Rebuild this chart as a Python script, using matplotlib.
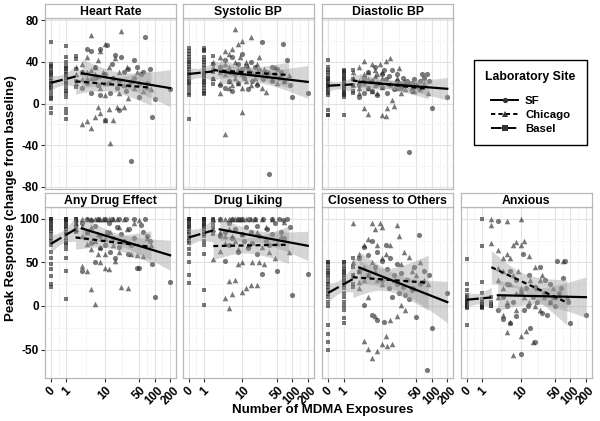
import numpy as np
import matplotlib
matplotlib.use('Agg')
import matplotlib.pyplot as plt
from matplotlib.lines import Line2D

plt.rcParams['font.family'] = ['Liberation Sans', 'DejaVu Sans']
plt.rcParams['font.weight'] = 'bold'
plt.rcParams['axes.unicode_minus'] = False

# number of MDMA exposures per subject (same subjects in every panel)
basel_exp = [0, 0, 0, 0, 0, 0, 0, 0, 0, 0, 0, 0, 0, 0, 0, 0, 0, 0, 0, 0,
             1, 1, 1, 1, 1, 1, 1, 1, 1, 1, 1, 1, 1, 1, 1, 1, 1, 1, 1, 1,
             2, 2, 2, 2, 2]
chicago_exp = [2, 2, 2, 3, 3, 3, 3, 4, 4, 4, 4, 5, 5, 5, 5, 6, 6, 6, 7, 7, 7, 8, 8, 8, 9,
               10, 10, 10, 10, 12, 12, 13, 15, 15, 16, 18, 20, 20, 22, 25, 25, 28, 30, 35,
               40, 45, 50, 60, 70, 85]
sf_exp = [3, 3, 4, 4, 5, 5, 6, 6, 7, 8, 8, 10, 10, 11, 12, 13, 14, 15, 16, 18, 20, 20,
          22, 25, 27, 30, 32, 35, 40, 40, 45, 50, 55, 60, 65, 70, 80, 90, 100, 200]

# Heart Rate
hr_basel = [59, 38, 36, 35, 32, 30, 28, 27, 25, 22, 20, 18, 16, 15, 12, 8, 5, 4, -4, -9,
            55, 45, 40, 36, 34, 33, 30, 28, 26, 25, 22, 20, 19, 15, 12, 10, 6, -5, -9, -15,
            46, 43, 33, 22, 16]
hr_chicago = [35, 20, 28, -20, 38, 30, 24, -17, 45, 30, 25, 66, -23, 25, 32, -13, 35, 28,
              -3, 42, 26, -9, 50, 15, 30, -16, 57, 20, 8, -5, 35, -38, -16, 25, 44, -3,
              10, 30, 70, -3, 18, 35, 5, 22, 15, 30, 20, 12, 16, 14]
hr_sf = [30, 15, 52, 20, 50, 10, 25, 35, 18, 52, 8, -16, 28, 56, 20, 10, 38, 25, 47, 15,
         22, -6, 45, 30, 12, 33, 18, -55, 42, 25, 35, 6, 28, 30, 64, 20, 33, -13, 4, 14]

# Systolic BP
sbp_basel = [53, 50, 48, 45, 42, 40, 38, 35, 33, 30, 28, 26, 24, 22, 20, 18, 14, 10, 8, -15,
             53, 51, 50, 45, 42, 40, 37, 34, 31, 29, 27, 26, 24, 22, 20, 18, 15, 12, 10, 9,
             46, 38, 30, 24, 19]
sbp_chicago = [35, 25, 40, 20, 45, 30, 10, -29, 38, 50, 28, 22, 48, 15, 35, 52, 30, 18,
               72, 40, 25, 57, 20, 33, 45, 60, -8, 28, 15, 40, 22, 35, 64, 18, 30, 25,
               38, 20, 45, 28, 15, 33, 11, 30, 24, 35, 20, 28, 22, 27]
sbp_sf = [18, 35, 15, 42, 30, 22, 45, 12, 28, 38, 20, 33, 48, 25, 36, 14, 30, 40, 22, 35,
          28, 18, 32, 59, 24, 30, 26, -68, 35, 22, 28, 33, 25, 30, 57, 22, 42, 18, 6, 10]

# Diastolic BP
dbp_basel = [42, 35, 32, 30, 27, 25, 24, 23, 21, 19, 18, 17, 16, 14, 12, 10, 8, -6, -11, -11,
             32, 31, 30, 28, 26, 25, 24, 22, 20, 18, 17, 16, 15, 14, 12, 10, 9, 8, 6, -11,
             32, 24, 18, 12, 10]
dbp_chicago = [25, 18, 30, 15, 35, 22, 10, 41, -4, 20, 28, -10, 30, 15, 24, 38, 12, 22,
               26, 18, 32, 20, 10, 28, 38, -11, 25, 16, 30, 41, -12, -4, 44, 20, 3, -2,
               25, 15, 34, 18, 10, 22, 14, 20, 16, 12, 18, 14, 20, 10]
dbp_sf = [6, 18, 25, 10, 30, 15, 22, 12, 35, 20, 8, 28, 16, 32, 24, 10, 26, 18, 32, 14,
          22, 28, 20, 15, 25, 18, 22, -46, 20, 12, 24, 18, 15, 22, 28, 25, 28, 22, -4, 6]

# Any Drug Effect
ade_basel = [100, 100, 100, 97, 95, 93, 90, 88, 86, 82, 78, 74, 70, 62, 55, 48, 42, 34, 25, 22,
             100, 100, 100, 100, 98, 96, 95, 92, 90, 88, 85, 82, 78, 75, 72, 70, 65, 55, 40, 8,
             100, 100, 95, 90, 85]
ade_chicago = [100, 95, 88, 100, 46, 92, 80, 100, 71, 40, 85, 19, 100, 65, 90, 2, 100, 75,
               100, 60, 82, 100, 68, 50, 100, 43, 100, 78, 60, 100, 42, 85, 100, 70, 51, 100,
               62, 90, 22, 100, 75, 88, 20, 60, 95, 58, 98, 57, 78, 70]
ade_sf = [40, 95, 100, 85, 98, 72, 50, 92, 100, 80, 66, 100, 70, 85, 95, 62, 100, 78, 55, 90,
          100, 68, 82, 75, 100, 60, 88, 70, 100, 78, 44, 43, 93, 85, 100, 80, 75, 48, 10, 28]

# Drug Liking
dl_basel = [100, 100, 100, 100, 98, 96, 94, 92, 90, 88, 85, 82, 78, 75, 72, 65, 60, 50, 36, 26,
            100, 100, 100, 100, 100, 98, 96, 95, 93, 92, 90, 88, 85, 82, 80, 75, 70, 60, 18, 1,
            100, 98, 95, 90, 82]
dl_chicago = [100, 54, 88, 100, 63, 85, 82, 9, 100, 80, 72, -2, 29, 100, 88, 14, 100, 80,
              30, 100, 75, 48, 100, 65, 100, 16, 100, 50, 82, 20, 100, 70, 24, 100, 50, 100,
              24, 85, 50, 100, 68, 48, 90, 62, 100, 55, 72, 80, 96, 62]
dl_sf = [100, 80, 85, 51, 95, 70, 100, 78, 88, 100, 62, 82, 100, 75, 90, 66, 100, 85, 72, 100,
         60, 92, 80, 37, 100, 75, 88, 70, 100, 82, 95, 40, 100, 85, 98, 78, 100, 90, 13, 37]

# Closeness to Others
cl_basel = [50, 50, 48, 44, 40, 38, 36, 32, 28, 25, 22, 18, 14, 10, 5, 0, -22, -32, -41, -50,
            50, 50, 46, 42, 40, 38, 35, 32, 30, 28, 26, 24, 20, 15, 10, 5, 0, -5, -14, -20,
            55, 45, 35, 25, 22]
cl_chicago = [95, 35, 50, 20, 60, 40, 28, -40, 45, 30, 70, -49, 77, 35, 10, -60, 50, 95,
              -12, 40, 88, -52, 70, 30, 95, -44, 55, 25, 91, -35, 60, -46, 70, -16, -44, 30,
              93, -12, 80, 1, 48, 62, -5, 56, 40, 20, 35, 50, 30, 25]
cl_sf = [40, 55, 68, 1, 35, 58, -10, 75, 45, 62, -16, 51, 30, -18, 70, 42, 20, 55, 10, 35,
         25, 48, 15, 38, 22, 12, 30, 8, 20, 18, 45, -13, 81, 25, 28, 40, -73, 35, -25, 15]

# Anxious
anx_basel = [54, 25, 18, 12, 10, 8, 6, 5, 4, 3, 2, 1, 0, 0, 0, 0, 0, -1, -2, -22,
             100, 69, 28, 15, 8, 5, 3, 2, 1, 0, 0, 0, 0, 0, 0, 0, 0, -1, -1, -2,
             10, 5, 2, 0, 0]
anx_chicago = [100, 93, 72, 64, 44, 30, 10, 55, 40, 20, -10, 97, 60, 5, -30, 55, 25, -18,
               -56, 35, 70, 73, 15, -5, 40, 100, 70, -35, 20, 75, 10, -29, 57, 5, 30, -41,
               45, 0, 20, 30, -5, 35, 10, 15, 5, 20, 10, 12, 52, 10]
anx_sf = [97, -5, 10, -15, 25, 0, -20, 40, 5, -12, 30, -55, 15, 60, -5, 20, 0, 35, -25, 10,
          -41, 22, 5, 45, -8, 15, 30, -10, 25, 5, 10, 0, 52, 15, 20, 32, 52, 5, -20, -10]

x_ticks = [0, 1, 10, 50, 100, 200]
x_tick_labels = ['0', '1', '10', '50', '100', '200']

panels = [
    ('Heart Rate', hr_basel, hr_chicago, hr_sf, 0, 0),
    ('Systolic BP', sbp_basel, sbp_chicago, sbp_sf, 0, 1),
    ('Diastolic BP', dbp_basel, dbp_chicago, dbp_sf, 0, 2),
    ('Any Drug Effect', ade_basel, ade_chicago, ade_sf, 1, 0),
    ('Drug Liking', dl_basel, dl_chicago, dl_sf, 1, 1),
    ('Closeness to Others', cl_basel, cl_chicago, cl_sf, 1, 2),
    ('Anxious', anx_basel, anx_chicago, anx_sf, 1, 3),
]

rows = {
    0: dict(ylim=(-82, 82), ticks=[-80, -40, 0, 40, 80], minor=[-60, -20, 20, 60]),
    1: dict(ylim=(-83, 113), ticks=[-50, 0, 50, 100], minor=[-25, 25, 75]),
}

sites = [  # name, exposures index, marker, size, dashes
    ('SF', 2, 'o', 14, None),
    ('Chicago', 1, '^', 16, (2.2, 1.6)),
    ('Basel', 0, 's', 12, (5.5, 2.0)),
]
exposures = [basel_exp, chicago_exp, sf_exp]


def fwd(x):
    return np.log10(np.maximum(np.asarray(x, float) + 1.0, 1e-6))


def inv(t):
    return 10 ** np.asarray(t, float) - 1.0


def lm_band(e, y):
    # linear fit on log10(x+1) with 95% confidence band
    t = fwd(e)
    y = np.asarray(y, float)
    n = len(t)
    b, a = np.polyfit(t, y, 1)
    tt = np.linspace(t.min(), t.max(), 80)
    fit = a + b * tt
    s = np.sqrt(np.sum((y - (a + b * t)) ** 2) / (n - 2))
    se = s * np.sqrt(1.0 / n + (tt - t.mean()) ** 2 / np.sum((t - t.mean()) ** 2))
    q = 1.96 + 2.4 / (n - 2)
    return inv(tt), fit, fit - q * se, fit + q * se


pt_col = '#262626'
grid_major = '#e3e3e3'
grid_minor = '#f4f4f4'
border = '#b8b8b8'

fig = plt.figure(figsize=(6, 4.21), dpi=100)

lefts = [0.075, 0.3045, 0.537, 0.768]
width = 0.2183
bottoms = {0: 0.551, 1: 0.1014}
height = 0.406
strip_h = 0.034

minor_x = inv((fwd(x_ticks[:-1]) + fwd(x_ticks[1:])) / 2)

for title, yb, yc, ys, r, c in panels:
    ax = fig.add_axes([lefts[c], bottoms[r], width, height])
    ax.set_xscale('function', functions=(fwd, inv))
    ax.set_xlim(-0.23, 260)
    ax.set_ylim(*rows[r]['ylim'])
    ax.set_xticks(x_ticks)
    ax.set_xticks(minor_x, minor=True)
    ax.set_yticks(rows[r]['ticks'])
    ax.set_yticks(rows[r]['minor'], minor=True)
    ax.grid(True, which='major', color=grid_major, lw=0.8, zorder=0)
    ax.grid(True, which='minor', color=grid_minor, lw=0.6, zorder=0)
    ax.set_axisbelow(True)
    for sp in ax.spines.values():
        sp.set_color(border)
        sp.set_linewidth(0.9)
    ax.tick_params(which='minor', length=0)
    ax.tick_params(which='major', length=3, width=0.8, color='#333333',
                   labelsize=8.5, pad=1.5, labelcolor='black')

    ys_by_site = [yb, yc, ys]
    for name, idx, mk, sz, dash in sites:
        ax.scatter(exposures[idx], ys_by_site[idx], marker=mk, s=sz, color=pt_col,
                   alpha=0.62, linewidths=0, zorder=2)
    for name, idx, mk, sz, dash in sites:
        xx, fit, lo, hi = lm_band(exposures[idx], ys_by_site[idx])
        ax.fill_between(xx, lo, hi, color='#999999', alpha=0.4, lw=0, zorder=3)
    for name, idx, mk, sz, dash in sites:
        xx, fit, lo, hi = lm_band(exposures[idx], ys_by_site[idx])
        ln, = ax.plot(xx, fit, color='black', lw=1.6, zorder=4)
        if dash is not None:
            ln.set_dashes(dash)

    if r == 1:
        ax.set_xticklabels(x_tick_labels, rotation=45, ha='center')
    else:
        ax.tick_params(axis='x', which='both', bottom=False, labelbottom=False)
    if c != 0:
        ax.tick_params(axis='y', which='both', left=False, labelleft=False)

    sax = fig.add_axes([lefts[c], bottoms[r] + height, width, strip_h])
    sax.set_xticks([])
    sax.set_yticks([])
    sax.set_facecolor('white')
    for sp in sax.spines.values():
        sp.set_color(border)
        sp.set_linewidth(0.9)
    sax.text(0.5, 0.45, title, ha='center', va='center', fontsize=8.8,
             fontweight='bold', transform=sax.transAxes)

fig.text(0.537, 0.026, 'Number of MDMA Exposures', ha='center', va='center',
         fontsize=9.5, fontweight='bold')
fig.text(0.018, 0.53, 'Peak Response (change from baseline)', ha='center', va='center',
         rotation=90, fontsize=9.5, fontweight='bold')

handles = []
for name, idx, mk, sz, dash in sites:
    h = Line2D([], [], color='black', lw=1.4, marker=mk, markersize=3.8,
               markerfacecolor='#333333', markeredgewidth=0)
    if dash is not None:
        h.set_dashes(dash)
    handles.append(h)

leg = fig.legend(handles, [s[0] for s in sites], title='Laboratory Site',
                 loc='upper left', bbox_to_anchor=(0.79, 1 - 60 / 421),
                 borderaxespad=0,
                 fontsize=8.2, title_fontproperties={'weight': 'bold', 'size': 8.8},
                 frameon=True, fancybox=False, edgecolor='black', framealpha=1,
                 handlelength=2.4, handletextpad=0.6, labelspacing=0.35,
                 borderpad=1.0)
leg.get_frame().set_linewidth(1.0)
leg._legend_box.sep = 9

fig.canvas.draw()
bb = leg.get_title().get_window_extent().transformed(fig.transFigure.inverted())
fig.add_artist(Line2D([bb.x0, bb.x1], [bb.y0 - 0.004, bb.y0 - 0.004],
                      transform=fig.transFigure, color='#444444', lw=0.9))

fig.savefig('out.png', dpi=100)
